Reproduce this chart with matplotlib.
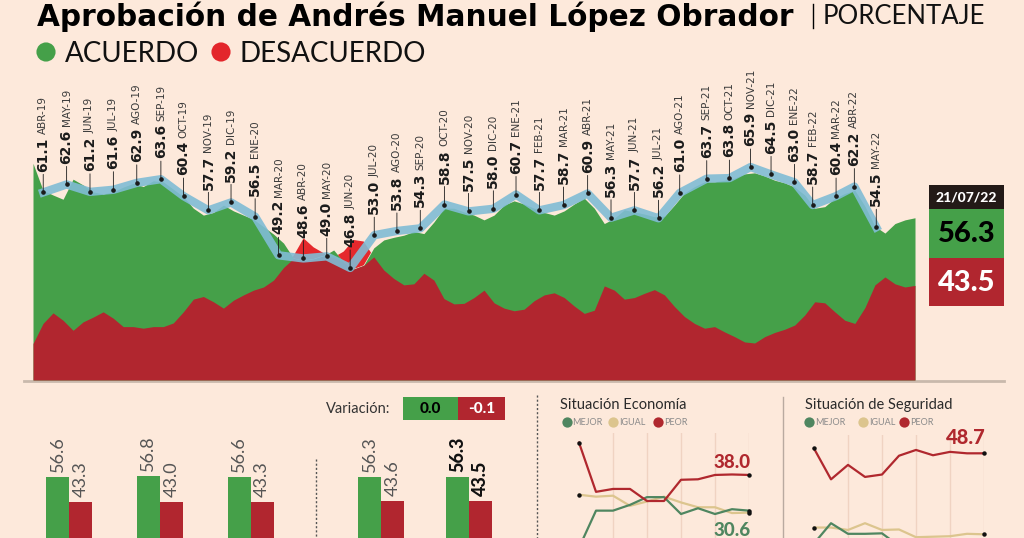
import numpy as np
import pandas as pd
import matplotlib.pyplot as plt
from matplotlib.patches import Rectangle

# ---- datos: serie diaria (area) ----
fechas_diarias = pd.date_range("2019-04-01", "2022-07-21", periods=89)
acuerdo_diario = [66.6, 61.5, 60.6, 59.8, 63.6, 62.5, 61.2, 60.8, 61.2, 62.1,
                  62.8, 62.2, 63.3, 63.1, 61.7, 60.3, 58.1, 56.8, 57.3, 58.7,
                  57.6, 56.8, 56.0, 54.6, 53.2, 51.5, 48.6, 48.2, 48.5, 49.1,
                  50.2, 47.9, 46.6, 47.3, 50.6, 52.1, 52.6, 53.0, 53.7, 53.3,
                  55.5, 58.1, 58.1, 57.4, 56.8, 55.9, 56.8, 58.7, 59.5, 58.9,
                  58.1, 57.3, 56.8, 57.6, 58.9, 60.0, 58.1, 55.2, 56.2, 57.8,
                  57.4, 57.0, 56.5, 56.6, 58.7, 61.0, 62.2, 63.1, 63.1, 63.4,
                  63.8, 64.6, 64.8, 64.2, 63.4, 62.9, 62.1, 60.6, 58.1, 58.4,
                  60.0, 60.9, 61.5, 58.5, 54.7, 53.4, 55.2, 55.9, 56.3]
desacuerdo_diario = [32.5, 36.3, 38.3, 36.9, 35.0, 36.6, 37.5, 38.5, 37.3, 35.7,
                     35.7, 35.4, 35.7, 35.7, 36.4, 38.5, 40.9, 41.4, 40.4, 39.2,
                     40.7, 41.7, 42.6, 43.2, 44.5, 46.9, 49.1, 52.4, 50.7, 49.6,
                     48.8, 49.9, 52.1, 51.8, 48.9, 46.4, 44.8, 43.6, 43.8, 45.8,
                     44.5, 41.0, 40.0, 40.1, 41.2, 42.6, 40.2, 39.2, 38.7, 39.0,
                     40.6, 41.7, 42.1, 41.2, 39.6, 38.2, 38.8, 43.4, 42.6, 40.9,
                     41.2, 42.0, 42.7, 41.7, 39.5, 37.6, 36.3, 35.4, 35.7, 34.7,
                     33.8, 32.8, 32.6, 33.8, 34.6, 35.2, 36.0, 37.9, 40.4, 40.2,
                     38.5, 36.9, 36.3, 39.3, 43.6, 45.1, 43.8, 43.2, 43.5]

# ---- datos: promedio mensual ----
meses = ["ABR-19", "MAY-19", "JUN-19", "JUL-19", "AGO-19", "SEP-19", "OCT-19",
         "NOV-19", "DIC-19", "ENE-20", "MAR-20", "ABR-20", "MAY-20", "JUN-20",
         "JUL-20", "AGO-20", "SEP-20", "OCT-20", "NOV-20", "DIC-20", "ENE-21",
         "FEB-21", "MAR-21", "ABR-21", "MAY-21", "JUN-21", "JUL-21", "AGO-21",
         "SEP-21", "OCT-21", "NOV-21", "DIC-21", "ENE-22", "FEB-22", "MAR-22",
         "ABR-22", "MAY-22"]
fechas_mes = pd.to_datetime([
    "2019-04-15", "2019-05-17", "2019-06-18", "2019-07-20", "2019-08-21",
    "2019-09-23", "2019-10-24", "2019-11-27", "2019-12-28", "2020-01-30",
    "2020-03-02", "2020-04-05", "2020-05-07", "2020-06-08", "2020-07-11",
    "2020-08-11", "2020-09-12", "2020-10-15", "2020-11-17", "2020-12-21",
    "2021-01-21", "2021-02-22", "2021-03-27", "2021-04-29", "2021-05-31",
    "2021-07-02", "2021-08-04", "2021-09-02", "2021-10-09", "2021-11-09",
    "2021-12-08", "2022-01-05", "2022-02-06", "2022-03-03", "2022-04-04",
    "2022-04-29", "2022-05-29"])
aprobacion_mes = [61.1, 62.6, 61.2, 61.6, 62.9, 63.6, 60.4, 57.7, 59.2, 56.5,
                  49.2, 48.6, 49.0, 46.8, 53.0, 53.8, 54.3, 58.8, 57.5, 58.0,
                  60.7, 57.7, 58.7, 60.9, 56.3, 57.7, 56.2, 61.0, 63.7, 63.8,
                  65.9, 64.5, 63.0, 58.7, 60.4, 62.2, 54.5]

fecha_corte = "21/07/22"
ultimo_acuerdo = 56.3
ultimo_desacuerdo = 43.5

# ---- datos: barras inferiores ----
barras_acuerdo = [56.6, 56.8, 56.6, 56.3, 56.3]
barras_desacuerdo = [43.3, 43.0, 43.3, 43.6, 43.5]
variacion = [0.0, -0.1]

# ---- datos: situacion economia / seguridad ----
eco_mejor = [22.9, 30.6, 30.6, 31.8, 33.4, 33.4, 29.9, 31.1, 29.9, 30.9, 30.6]
eco_igual = [33.9, 33.5, 33.7, 31.6, 32.5, 33.5, 32.3, 31.3, 31.3, 30.1, 30.2]
eco_peor = [44.7, 34.5, 35.1, 35.1, 32.6, 32.6, 37.0, 37.1, 38.0, 38.1, 38.0]
seg_mejor = [30.0, 34.2, 32.0, 32.0, 32.1, 29.5, 27.5, 27.8, 27.0, 27.5, 27.6]
seg_igual = [33.3, 33.3, 32.8, 34.2, 32.8, 32.9, 31.3, 31.4, 31.5, 32.0, 31.9]
seg_peor = [49.7, 43.3, 46.3, 43.8, 44.3, 48.2, 49.4, 48.3, 49.0, 48.7, 48.7]

# ---- estilo ----
FONDO = "#fde9db"
VERDE = "#45a049"
ROJO = "#b1262f"
ROJO_VIVO = "#e5282c"
AZUL = "#80bcd5"
C_MEJOR = "#4f8660"
C_IGUAL = "#dcc58e"
C_PEOR = "#b0282e"
NARROW = ["Liberation Sans Narrow", "DejaVu Sans"]
LATO = ["Lato", "DejaVu Sans"]

W, H = 1024, 538


def caja(x0, y0, x1, y1):
    # pixeles (origen arriba a la izquierda) -> fraccion de figura
    return [x0 / W, 1 - y1 / H, (x1 - x0) / W, (y1 - y0) / H]


fig = plt.figure(figsize=(W / 100, H / 100), dpi=100, facecolor=FONDO)
r = fig.canvas.get_renderer()

# lienzo en pixeles para titulos y adornos
lz = fig.add_axes([0, 0, 1, 1])
lz.set_xlim(0, W)
lz.set_ylim(H, 0)
lz.axis("off")

lz.text(37, 26, "Aprobación de Andrés Manuel López Obrador", fontsize=21.3,
        family="DejaVu Sans", fontweight="bold", va="baseline", color="#000000")
lz.plot([813, 813], [4, 28], color="#000000", lw=1)
lz.text(823, 24, "PORCENTAJE", fontsize=18.5, family=LATO, fontweight="normal",
        va="baseline", color="#111111")
lz.scatter([46, 221], [52, 52], s=190, color=[VERDE, "#e3262b"], lw=0)
lz.text(65, 62, "ACUERDO", fontsize=20, family=LATO, fontweight="normal",
        va="baseline", color="#111111")
lz.text(240, 62, "DESACUERDO", fontsize=20, family=LATO, fontweight="normal",
        va="baseline", color="#111111")

# linea base y separadores
lz.plot([24, 1004], [381, 381], color="#c9b9ac", lw=2)
lz.plot([316, 316], [459, 540], color="#555555", lw=1, ls=(0, (1.5, 1.5)))
lz.plot([537, 537], [395, 540], color="#555555", lw=1, ls=(0, (1.5, 1.5)))
lz.plot([783, 783], [397, 540], color="#b9aaa0", lw=1)

# caja del ultimo dato
lz.add_patch(Rectangle((929, 185), 75, 24, color="#231a17", lw=0))
lz.add_patch(Rectangle((929, 209), 75, 49, color=VERDE, lw=0))
lz.add_patch(Rectangle((929, 258), 75, 48, color=ROJO, lw=0))
lz.text(966.5, 197.5, fecha_corte, ha="center", va="center", fontsize=10,
        family=LATO, fontweight="black", color="white")
lz.text(966.5, 234, f"{ultimo_acuerdo:.1f}", ha="center", va="center",
        fontsize=21, family=LATO, fontweight="black", color="#000000")
lz.text(966.5, 283, f"{ultimo_desacuerdo:.1f}", ha="center", va="center",
        fontsize=21, family=LATO, fontweight="black", color="white")

# variacion
lz.text(390, 409, "Variación:", ha="right", va="center", fontsize=10.5,
        family=LATO, color="#333333")
lz.add_patch(Rectangle((403, 397), 55, 23, color=VERDE, lw=0))
lz.add_patch(Rectangle((458, 397), 47, 23, color=ROJO, lw=0))
lz.text(430.5, 409, f"{variacion[0]:.1f}", ha="center", va="center",
        fontsize=11, family=LATO, fontweight="black", color="#000000")
lz.text(481.5, 409, f"{variacion[1]:.1f}", ha="center", va="center",
        fontsize=11, family=LATO, fontweight="black", color="white")

# ---- grafica principal ----
ax = fig.add_axes(caja(33, 60, 915, 380))
y0 = 25.6
ax.set_ylim(y0, 86.15)
ax.set_xlim(fechas_diarias[0], fechas_diarias[-1])
ax.axis("off")

a = np.array(acuerdo_diario)
d = np.array(desacuerdo_diario)
ax.fill_between(fechas_diarias, y0, a, color=VERDE, lw=0)
ax.fill_between(fechas_diarias, y0, np.minimum(a, d), color=ROJO, lw=0)
ax.fill_between(fechas_diarias, a, d, where=d > a, interpolate=True,
                color=ROJO_VIVO, lw=0)

ax.plot(fechas_mes, aprobacion_mes, color=AZUL, lw=6, alpha=0.9,
        solid_joinstyle="round")
ax.plot(fechas_mes, aprobacion_mes, "o", ms=2.3, color="#1b1b1b")

for f, v, m in zip(fechas_mes, aprobacion_mes, meses):
    s = f"{v:.1f}"
    ax.annotate(s, xy=(f, v), xytext=(0, 15), textcoords="offset points",
                rotation=90, rotation_mode="anchor", ha="left", va="center",
                fontsize=10, fontweight="bold", family=NARROW, color="#1b1b1b",
                arrowprops=dict(arrowstyle="-", lw=0.6, color="#1b1b1b",
                                shrinkA=0, shrinkB=0, relpos=(0.5, 0)))
    tmp = fig.text(0, 0, s, fontsize=10, fontweight="bold", family=NARROW)
    largo = tmp.get_window_extent(r).width * 72 / fig.dpi
    tmp.remove()
    ax.annotate(m, xy=(f, v), xytext=(0, 15 + largo + 2.5),
                textcoords="offset points", rotation=90, rotation_mode="anchor",
                ha="left", va="center", fontsize=7.5, family=NARROW,
                color="#3a3a3a")

# ---- barras inferiores ----
axb = fig.add_axes(caja(0, 380, 520, 583))
axb.axis("off")
pos = np.array([0, 1, 2, 3.44, 4.41])
w = 0.254
axb.bar(pos - w / 2, barras_acuerdo, w, color=VERDE, lw=0)
axb.bar(pos + w / 2, barras_desacuerdo, w, color=ROJO, lw=0)
axb.set_xlim(-0.764, 4.969)
axb.set_ylim(0, 108)
for i, (va_, vd) in enumerate(zip(barras_acuerdo, barras_desacuerdo)):
    ultimo = i == len(pos) - 1
    estilo = dict(textcoords="offset points", rotation=90,
                  rotation_mode="anchor", ha="left", va="center", fontsize=13,
                  family=LATO, fontweight="black" if ultimo else "normal",
                  color="#111111" if ultimo else "#555555")
    axb.annotate(f"{va_:.1f}", xy=(pos[i] - w / 2, va_), xytext=(0, 3.6), **estilo)
    axb.annotate(f"{vd:.1f}", xy=(pos[i] + w / 2, vd), xytext=(0, 3.6), **estilo)


# ---- paneles economia y seguridad ----
def panel(rect, ylim, mejor, igual, peor, titulo, tx, ty, leyenda_x):
    axp = fig.add_axes(rect)
    axp.set_facecolor("none")
    for sp in axp.spines.values():
        sp.set_visible(False)
    axp.set_xlim(0, 10)
    axp.set_ylim(*ylim)
    axp.set_xticks([2, 4, 6, 8, 10])
    axp.set_yticks([])
    axp.tick_params(length=0, labelbottom=False)
    axp.grid(axis="x", color="#f0d3c2", lw=1)
    x = np.arange(len(peor))
    for serie, c in [(igual, C_IGUAL), (mejor, C_MEJOR), (peor, C_PEOR)]:
        axp.plot(x, serie, color=c, lw=1.6, clip_on=False)
        axp.plot([x[0], x[-1]], [serie[0], serie[-1]], "o", ms=2.2,
                 color="#111111", clip_on=False)
    lz.text(tx, ty, titulo, fontsize=10.5, family=LATO, va="center",
            color="#2a2a2a")
    for lx, c, t in zip(leyenda_x, [C_MEJOR, C_IGUAL, C_PEOR],
                        ["MEJOR", "IGUAL", "PEOR"]):
        lz.scatter([lx], [422], s=55, color=c, lw=0)
        lz.text(lx + 6, 422.5, t, fontsize=6.5, family=LATO, fontweight="normal",
                va="center", color="#8a8a8a")
    return axp


axe = panel(caja(579, 433, 749, 600), (12.07, 46.7), eco_mejor, eco_igual,
            eco_peor, "Situación Economía", 560, 405, [566.5, 613, 658])
axe.annotate(f"{eco_peor[-1]:.1f}", xy=(10, eco_peor[-1]), xytext=(1.5, 3),
             textcoords="offset points", ha="right", va="bottom", fontsize=13.5,
             family=LATO, fontweight="black", color=C_PEOR)
axe.annotate(f"{eco_mejor[-1]:.1f}", xy=(10, eco_mejor[-1]), xytext=(1, -8),
             textcoords="offset points", ha="right", va="top", fontsize=13.5,
             family=LATO, fontweight="black", color=C_MEJOR)

axs = panel(caja(814, 435, 984, 600), (18.27, 52.5), seg_mejor, seg_igual,
            seg_peor, "Situación de Seguridad", 805, 405, [809, 863, 904])
axs.annotate(f"{seg_peor[-1]:.1f}", xy=(10, seg_peor[-1]), xytext=(1, 4.5),
             textcoords="offset points", ha="right", va="bottom", fontsize=14.5,
             family=LATO, fontweight="black", color=C_PEOR)

plt.savefig("out.png", dpi=100, facecolor=FONDO)
